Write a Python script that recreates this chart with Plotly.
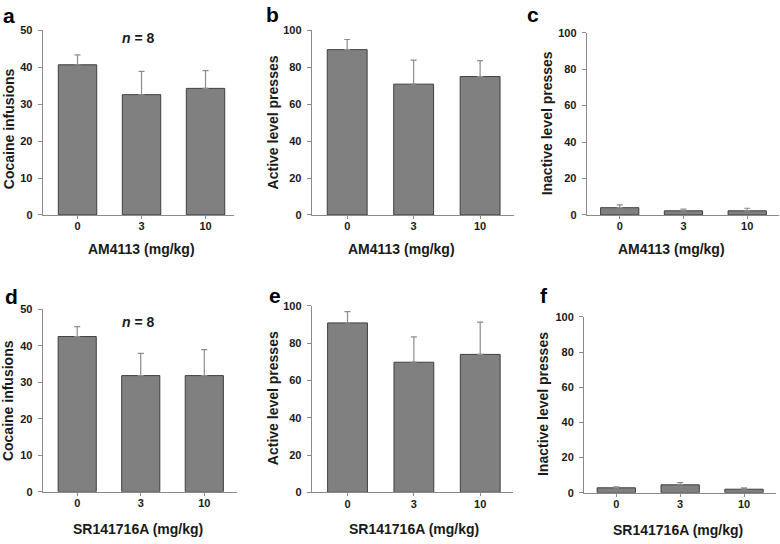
import plotly.graph_objects as go

# ---------------- data ----------------
dose_labels = ["0", "3", "10"]

a_mean = [40.7, 32.6, 34.3]
a_sem = [2.7, 6.3, 4.8]
b_mean = [89.6, 70.9, 75.0]
b_sem = [5.5, 13.0, 8.6]
c_mean = [4.0, 2.3, 2.3]
c_sem = [1.6, 0.9, 1.4]
d_mean = [42.5, 31.8, 31.8]
d_sem = [2.7, 6.1, 7.1]
e_mean = [90.9, 69.8, 74.0]
e_sem = [6.0, 13.6, 17.3]
f_mean = [2.8, 4.5, 2.0]
f_sem = [0.5, 1.2, 0.8]

panel_letters = ["a", "b", "c", "d", "e", "f"]
y_titles = ["Cocaine infusions", "Active level presses", "Inactive level presses",
            "Cocaine infusions", "Active level presses", "Inactive level presses"]
x_titles = ["AM4113 (mg/kg)"] * 3 + ["SR141716A (mg/kg)"] * 3
n_label = "<i>n</i> = 8"

means = [a_mean, b_mean, c_mean, d_mean, e_mean, f_mean]
sems = [a_sem, b_sem, c_sem, d_sem, e_sem, f_sem]
y_max = [50, 100, 100, 50, 100, 100]
y_dtick = [10, 20, 20, 10, 20, 20]

# ---------------- layout geometry (pixels) ----------------
W, H = 780, 544
# x0, x1, ytop, ybottom, xrange
geom = [
    (42.7, 234.0, 25.0, 213.7, [-0.544, 2.445]),
    (311.7, 514.0, 25.0, 213.7, [-0.534, 2.51]),
    (586.7, 779.0, 27.3, 213.7, [-0.518, 2.499]),
    (42.7, 236.7, 310.0, 496.7, [-0.543, 2.51]),
    (311.7, 513.0, 306.7, 497.3, [-0.54, 2.494]),
    (584.0, 776.0, 318.0, 497.7, [-0.506, 2.501]),
]
letter_pos = [(9, 10), (272, 9), (533, 9), (11, 297), (275, 296), (544, 296)]
ytitle_pos = [(9, 126), (273, 119), (547, 120), (8, 404), (273, 401), (543, 407)]
xtitle_pos = [(141, 248), (402, 248), (671, 248), (138, 535), (414, 535), (678, 536)]
n_pos = [(138, 33), (138, 323)]

FONT = "Liberation Sans, Arial, sans-serif"
BAR_FILL = "#808080"
BAR_LINE = "#3f3f3f"
AXIS_COL = "#8a8a8a"
TEXT_COL = "#1a1a1a"


def px_x(x):
    return x / W


def px_y(y):
    return 1 - y / H


fig = go.Figure()
annotations = []
layout_axes = {}

for i in range(6):
    k = "" if i == 0 else str(i + 1)
    x0, x1, yt, yb, xr = geom[i]
    fig.add_trace(go.Bar(
        x=[0, 1, 2], y=means[i],
        width=0.6,
        marker=dict(color=BAR_FILL, line=dict(color=BAR_LINE, width=1)),
        error_y=dict(type="data", symmetric=False, array=sems[i],
                     arrayminus=[0, 0, 0], color="#8c8c8c", thickness=1.2, width=3),
        xaxis="x" + k, yaxis="y" + k, showlegend=False, hoverinfo="skip",
    ))
    layout_axes["xaxis" + k] = dict(
        domain=[px_x(x0), px_x(x1)], anchor="y" + k, range=xr,
        tickvals=[0, 1, 2], ticktext=dose_labels,
        showline=True, linecolor=AXIS_COL, linewidth=1,
        ticks="outside", ticklen=3, tickcolor=AXIS_COL,
        showgrid=False, zeroline=False, fixedrange=True,
        tickfont=dict(family=FONT, size=11, color=TEXT_COL, weight="bold"),
        ticklabelstandoff=-2,
    )
    layout_axes["yaxis" + k] = dict(
        domain=[px_y(yb), px_y(yt)], anchor="x" + k, range=[0, y_max[i]],
        dtick=y_dtick[i], tick0=0,
        showline=True, linecolor=AXIS_COL, linewidth=1,
        ticks="outside", ticklen=4, tickcolor=AXIS_COL,
        showgrid=False, zeroline=False, fixedrange=True,
        tickfont=dict(family=FONT, size=11, color=TEXT_COL, weight="bold"),
        ticklabelstandoff=3,
    )
    lx, ly = letter_pos[i]
    annotations.append(dict(text=panel_letters[i], x=px_x(lx), y=px_y(ly), xref="paper", yref="paper",
                            showarrow=False, xanchor="center", yanchor="middle",
                            font=dict(family=FONT, size=21, color="#000000", weight="bold")))
    tx, ty = ytitle_pos[i]
    annotations.append(dict(text=y_titles[i], x=px_x(tx), y=px_y(ty), xref="paper", yref="paper",
                            showarrow=False, textangle=-90, xanchor="center", yanchor="middle",
                            font=dict(family=FONT, size=14, color=TEXT_COL, weight="bold")))
    qx, qy = xtitle_pos[i]
    annotations.append(dict(text=x_titles[i], x=px_x(qx), y=px_y(qy), xref="paper", yref="paper",
                            showarrow=False, xanchor="center", yanchor="middle",
                            font=dict(family=FONT, size=14, color=TEXT_COL, weight="bold")))

for nx, ny in n_pos:
    annotations.append(dict(text=n_label, x=px_x(nx), y=px_y(ny), xref="paper", yref="paper",
                            showarrow=False, xanchor="center", yanchor="middle",
                            font=dict(family=FONT, size=14, color=TEXT_COL, weight="bold")))

fig.update_layout(
    width=W, height=H,
    margin=dict(l=0, r=0, t=0, b=0),
    paper_bgcolor="white", plot_bgcolor="white",
    annotations=annotations,
    bargap=0.4,
    **layout_axes,
)

fig.write_html("out.html", config={"displayModeBar": False},
               post_script="document.body.style.margin='0';document.body.style.overflow='hidden';")
